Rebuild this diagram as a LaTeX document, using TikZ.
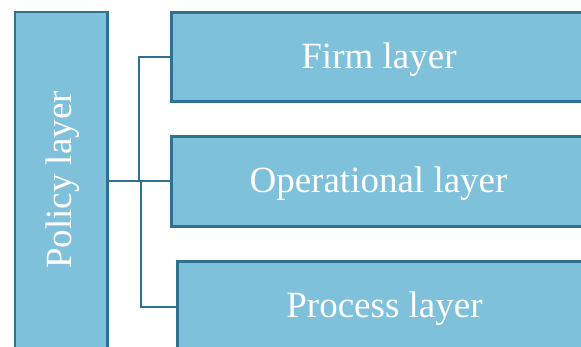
\documentclass[tikz,border=0pt]{standalone}
\usepackage{fontspec}
\setmainfont{Liberation Serif}
\definecolor{boxfill}{HTML}{7FC1DB}
\definecolor{boxline}{HTML}{2E7290}
\begin{document}
\begin{tikzpicture}[x=1pt,y=-1pt,
  layerbox/.style={draw=boxline, fill=boxfill, line width=2.6pt, inner sep=0pt,
    font=\fontsize{37}{40}\selectfont, text=white, anchor=north west},
  layertext/.style={text=white, font=\fontsize{37}{40}\selectfont},
  link/.style={draw=boxline, line width=2.2pt}]
\useasboundingbox (0,0) rectangle (581,347);
\clip (0,0) rectangle (581,347);
\fill[white] (0,0) rectangle (581,347);
\node[layerbox, minimum width=92.5pt, minimum height=342pt] (policy) at (13.5,10.7) {};
\node[layertext, rotate=90] (policytext) at (63,180) {Policy layer};
\node[layerbox, minimum width=418pt, minimum height=89.5pt] (firm) at (170,11) {};
\node[layertext] (firmtext) at (379,59.5) {Firm layer};
\node[layerbox, minimum width=418pt, minimum height=90.5pt] (oper) at (170,135) {};
\node[layertext] (opertext) at (378.5,183.5) {Operational layer};
\node[layerbox, minimum width=417pt, minimum height=90pt] (proc) at (176,260.5) {};
\node[layertext] (proctext) at (384.5,308.5) {Process layer};
\coordinate (j1) at (139,181);
\coordinate (j2) at (141,181);
\draw[link] (policy.east |- j1) -- (oper.west |- j1);
\draw[link] (j1) |- (firm.west);
\draw[link] (j2) |- (proc.west);
\end{tikzpicture}
\end{document}
